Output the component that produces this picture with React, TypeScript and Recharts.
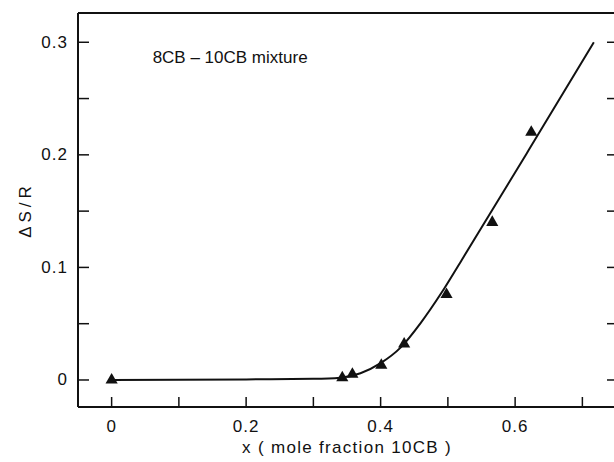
import {
  ComposedChart,
  Line,
  Scatter,
  XAxis,
  YAxis,
  ReferenceDot,
  Label,
} from 'recharts'

// smooth fitted curve
const curveX = [0, 0.2, 0.3, 0.34, 0.37, 0.4, 0.43, 0.46, 0.49, 0.52, 0.62, 0.717]
const curveY = [0, 0.0005, 0.001, 0.002, 0.006, 0.015, 0.029, 0.051, 0.077, 0.106, 0.204, 0.3]

// measured points (triangles)
const pointX = [0, 0.343, 0.358, 0.401, 0.435, 0.498, 0.566, 0.624]
const pointY = [0, 0.002, 0.005, 0.013, 0.032, 0.076, 0.14, 0.22]

const xTicks = [0, 0.1, 0.2, 0.3, 0.4, 0.5, 0.6, 0.7]
const xLabelTicks = [0, 0.2, 0.4, 0.6]
const yTicks = [0, 0.05, 0.1, 0.15, 0.2, 0.25, 0.3]
const yLabelTicks = [0, 0.1, 0.2, 0.3]

const curve = curveX.map((x, i) => ({ x, y: curveY[i] }))
const points = pointX.map((x, i) => ({ x, y: pointY[i] }))

const ink = '#111111'
const font = "'Liberation Sans', Arial, sans-serif"
const fs = 17

const fmt = (v: number) => (v === 0 ? '0' : v.toFixed(1))
const isLabelled = (v: number, list: number[]) =>
  list.some((t) => Math.abs(t - v) < 1e-6)

function makeTick(side: 'top' | 'bottom' | 'left' | 'right', len: number) {
  return (props: any) => {
    const { x, y, payload } = props
    const v = payload.value as number
    let line
    let label = null
    if (side === 'bottom') {
      line = <line x1={x} y1={y} x2={x} y2={y - len} stroke={ink} strokeWidth={1.5} />
      if (isLabelled(v, xLabelTicks))
        label = (
          <text x={x} y={y + 19} textAnchor='middle' dominantBaseline='central' fill={ink} fontSize={fs} fontFamily={font} letterSpacing={1}>
            {fmt(v)}
          </text>
        )
    } else if (side === 'top') {
      line = <line x1={x} y1={y} x2={x} y2={y + len} stroke={ink} strokeWidth={1.5} />
    } else if (side === 'left') {
      line = <line x1={x} y1={y} x2={x + len} y2={y} stroke={ink} strokeWidth={1.5} />
      if (isLabelled(v, yLabelTicks))
        label = (
          <text x={x - 10} y={y} textAnchor='end' dominantBaseline='central' fill={ink} fontSize={fs} fontFamily={font} letterSpacing={1}>
            {fmt(v)}
          </text>
        )
    } else {
      line = <line x1={x} y1={y} x2={x - len} y2={y} stroke={ink} strokeWidth={1.5} />
    }
    return (
      <g>
        {line}
        {label}
      </g>
    )
  }
}

const axisLine = { stroke: ink, strokeWidth: 2 }

export default function App() {
  return (
    <div style={{ position: 'fixed', left: 0, top: 0, width: 614, height: 462, overflow: 'hidden', background: '#fff' }}>
      <ComposedChart
        width={620}
        height={462}
        margin={{ top: 12, right: 3, bottom: 54, left: 77 }}
      >
        <XAxis
          dataKey='x'
          type='number'
          domain={[-0.05, 0.75]}
          ticks={xTicks}
          interval={0}
          height={1}
          tickSize={0}
          tickMargin={0}
          tickLine={false}
          axisLine={axisLine}
          tick={makeTick('bottom', 10)}
          allowDataOverflow
        >
          <Label
            value='x ( mole fraction 10CB )'
            position='bottom'
            offset={33}
            fill={ink}
            fontSize={fs}
            fontFamily={font}
            letterSpacing={1.3}
          />
        </XAxis>
        <XAxis
          xAxisId='top'
          orientation='top'
          type='number'
          domain={[-0.05, 0.75]}
          ticks={xTicks}
          interval={0}
          height={1}
          tickSize={0}
          tickMargin={0}
          tickLine={false}
          axisLine={axisLine}
          tick={makeTick('top', 11)}
          allowDataOverflow
        />
        <YAxis
          dataKey='y'
          type='number'
          domain={[-0.024, 0.326]}
          ticks={yTicks}
          interval={0}
          width={1}
          tickSize={0}
          tickMargin={0}
          tickLine={false}
          axisLine={axisLine}
          tick={makeTick('left', 11)}
          allowDataOverflow
          label={{
            content: (p: any) => {
              const vb = p.viewBox || { x: 77, y: 13, width: 1, height: 394 }
              const cx = vb.x + (vb.width || 0) - 53
              const cy = vb.y + vb.height / 2
              return (
                <text
                  x={cx}
                  y={cy}
                  transform={`rotate(-90, ${cx}, ${cy})`}
                  textAnchor='middle'
                  dominantBaseline='central'
                  fill={ink}
                  fontSize={fs}
                  fontFamily={font}
                  letterSpacing={4}
                >
                  ΔS/R
                </text>
              )
            },
          }}
        />
        <YAxis
          yAxisId='r'
          orientation='right'
          type='number'
          domain={[-0.024, 0.326]}
          ticks={yTicks}
          interval={0}
          width={1}
          tickSize={0}
          tickMargin={0}
          tickLine={false}
          axisLine={axisLine}
          tick={makeTick('right', 9)}
          allowDataOverflow
        />
        <Line
          data={curve}
          dataKey='y'
          type='monotone'
          stroke={ink}
          strokeWidth={2}
          dot={false}
          isAnimationActive={false}
        />
        <Scatter
          data={points}
          dataKey='y'
          shape='triangle'
          fill={ink}
          isAnimationActive={false}
        />
        <ReferenceDot
          x={0.061}
          y={0.287}
          r={0}
          stroke='none'
          label={{
            value: '8CB – 10CB mixture',
            position: 'right',
            offset: 0,
            fill: ink,
            fontSize: fs,
            fontFamily: font,
          }}
        />
      </ComposedChart>
    </div>
  )
}
